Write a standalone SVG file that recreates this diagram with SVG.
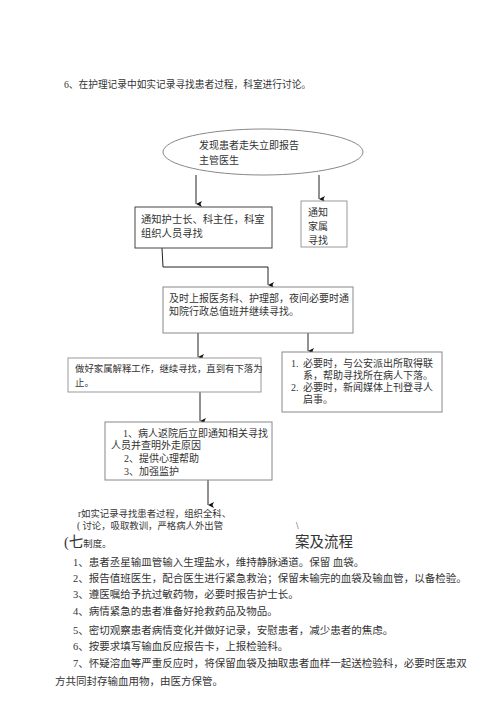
<svg xmlns="http://www.w3.org/2000/svg" width="500" height="708" viewBox="0 0 500 708">
<defs>
<marker id="ah" markerUnits="userSpaceOnUse" markerWidth="6" markerHeight="7" refX="3" refY="6" orient="auto-start-reverse" viewBox="0 0 6 7">
<path d="M0,0 L3,6 L6,0 L3,1.5 Z" fill="#111" transform="rotate(0)"/>
</marker>
<style>
text{font-family:"Liberation Serif","Noto Sans CJK SC",serif;fill:#333;font-size:10px}
.box{fill:#fff;stroke:#888;stroke-width:1}
.dk{stroke:#444}
.lt{stroke:#999}
.con{fill:none;stroke:#222;stroke-width:1}
.sm{font-size:9.4px}
.big{font-size:14.5px}
</style>
</defs>
<rect width="500" height="708" fill="#fff"/>
<text x="64" y="88" style="font-size:9.7px">6、在护理记录中如实记录寻找患者过程，科室进行讨论。</text>

<g id="connectors">
<path class="con" d="M196,175 V204" marker-end="url(#ah)"/>
<path class="con" d="M319,175 V199" marker-end="url(#ah)"/>
<path class="con" d="M162,248 L163,267 H268 V285" marker-end="url(#ah)"/>
<path class="con" d="M198,333 V357" marker-end="url(#ah)"/>
<path class="con" d="M308,333 V351" marker-end="url(#ah)"/>
<path class="con" d="M200,392 V421" marker-end="url(#ah)"/>
<path class="con" d="M208,480 V505" marker-end="url(#ah)"/>
</g>

<g id="n1">
<ellipse cx="263" cy="152" rx="100" ry="23" fill="#fff" stroke="#888"/>
<text x="199" y="149">发现患者走失立即报告</text>
<text x="199" y="164">主管医生</text>
</g>
<g id="n2">
<rect class="box dk" x="135" y="207" width="137" height="41"/>
<text x="141" y="223" style="font-size:10.3px">通知护士长、科主任，科室</text>
<text x="141" y="237" style="font-size:10.3px">组织人员寻找</text>
</g>
<g id="n3">
<rect class="box lt" x="301" y="201" width="46" height="46"/>
<text x="308" y="216">通知</text>
<text x="308" y="230">家属</text>
<text x="308" y="244">寻找</text>
</g>
<g id="n4">
<rect class="box" x="163" y="287" width="190" height="46"/>
<text x="169" y="302">及时上报医务科、护理部，夜间必要时通</text>
<text x="169" y="315">知院行政总值班并继续寻找。</text>
</g>
<g id="n5">
<rect class="box lt" x="68" y="358" width="193" height="34"/>
<text class="sm" x="75" y="372">做好家属解释工作，继续寻找，直到有下落为</text>
<text class="sm" x="75" y="386">止。</text>
</g>
<g id="n6">
<rect class="box" x="282" y="352" width="160" height="60"/>
<text x="291" y="367">1.</text>
<text x="303" y="367">必要时，与公安派出所取得联</text>
<text x="303" y="379">系，帮助寻找所在病人下落。</text>
<text x="291" y="391">2.</text>
<text x="303" y="391">必要时，新闻媒体上刊登寻人</text>
<text x="303" y="403">启事。</text>
</g>
<g id="n7">
<rect class="box" x="105" y="422" width="167" height="58"/>
<text x="123" y="437">1、病人返院后立即通知相关寻找</text>
<text x="111" y="449">人员并查明外走原因</text>
<text x="124" y="462">2、提供心理帮助</text>
<text x="124" y="475">3、加强监护</text>
</g>

<text class="sm" x="78" y="517">r如实记录寻找患者过程，组织全科、</text>
<text class="sm" x="77" y="529">( 讨论，吸取教训，严格病人外出管</text>
<text class="sm" x="296" y="529">\</text>
<text x="64" y="547"><tspan class="big">(七</tspan><tspan class="sm">制度。</tspan></text>
<text class="big" x="295" y="547">案及流程</text>

<g style="font-size:10.5px">
<text x="73" y="566" style="font-size:10.5px">1、患者丞星输皿管输入生理盐水，维持静脉通道。保留 血袋。</text>
<text x="73" y="582" style="font-size:10.5px">2、报告值班医生，配合医生进行紧急救治；保留未输完的血袋及输血管，以备检验。</text>
<text x="73" y="598" style="font-size:10.5px">3、遵医嘱给予抗过敏药物，必要时报告护士长。</text>
<text x="73" y="615" style="font-size:10.5px">4、病情紧急的患者准备好抢救药品及物品。</text>
<text x="73" y="634" style="font-size:10.5px">5、密切观察患者病情变化并做好记录，安慰患者，减少患者的焦虑。</text>
<text x="73" y="650" style="font-size:10.5px">6、按要求填写输血反应报告卡，上报检验科。</text>
<text x="73" y="667" style="font-size:10.5px">7、怀疑溶血等严重反应时，将保留血袋及抽取患者血样一起送检验科，必要时医患双</text>
<text x="55" y="685" style="font-size:10.5px">方共同封存输血用物，由医方保管。</text>
</g>
</svg>
